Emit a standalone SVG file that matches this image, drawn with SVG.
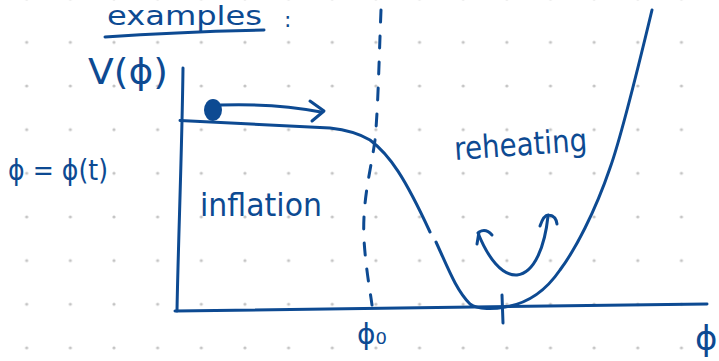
<svg xmlns="http://www.w3.org/2000/svg" width="719" height="361" viewBox="0 0 719 361">
<style>
.ink{fill:none;stroke:#0d4a92;stroke-width:3;stroke-linecap:round;stroke-linejoin:round}
.txt{fill:#0d4a92;font-family:"DejaVu Sans","Liberation Sans",sans-serif}
</style>
<defs>
<pattern id="dots" x="4.87" y="20.5" width="43.65" height="43.65" patternUnits="userSpaceOnUse">
<circle cx="21.83" cy="21.83" r="1.6" fill="#c4c4c4"/>
</pattern>
</defs>
<rect width="719" height="361" fill="#ffffff"/>
<rect width="719" height="361" fill="url(#dots)"/>

<g id="title">
<text class="txt" x="107" y="25" font-size="26" textLength="155" lengthAdjust="spacingAndGlyphs">examples</text>
<path class="ink" d="M105,37 C160,33 215,31 264,30"/>
<text class="txt" x="284" y="27" font-size="22">:</text>
</g>

<g id="labels">
<text class="txt" x="88" y="84" font-size="36" textLength="80" lengthAdjust="spacingAndGlyphs">V(ϕ)</text>
<text class="txt" x="8" y="180" font-size="28" textLength="100" lengthAdjust="spacingAndGlyphs">ϕ = ϕ(t)</text>
<text class="txt" x="200" y="216" font-size="32" textLength="122" lengthAdjust="spacingAndGlyphs">inflation</text>
<text class="txt" x="455" y="160" font-size="32" textLength="133" lengthAdjust="spacingAndGlyphs" transform="rotate(-4 455 160)">reheating</text>
<text class="txt" x="357" y="344" font-size="28">ϕ₀</text>
<text class="txt" x="695" y="350" font-size="34">ϕ</text>
</g>

<g id="axes">
<path class="ink" d="M183,68 C182,150 178,250 177,311"/>
<path class="ink" d="M175,311 C300,309 500,306 707,304"/>
</g>

<g id="potential">
<path class="ink" d="M180,120.5 L330,128 C348,130 360,134 370,140 C390,155 405,178 430,232"/>
<path class="ink" d="M436,242 C448,268 456,290 470,304 C478,310 495,309 505,307 C525,304 545,292 560,270 C575,250 595,212 610,168 C622,135 640,60 652,10"/>
<path class="ink" stroke-width="4" d="M502,295 L503,323"/>
</g>

<g id="field-line">
<path class="ink" stroke-dasharray="12 14" d="M381,10 C379,60 378,110 375,140 C371,170 362,200 364,240 C366,270 370,290 372,305"/>
</g>

<g id="ball">
<ellipse cx="213" cy="110" rx="9" ry="11" fill="#0d4a92"/>
<path class="ink" stroke-width="5" d="M220,105 C250,104 290,106 321,112"/>
<path class="ink" stroke-width="4" d="M310,101 L324,111 L312,121"/>
</g>

<g id="oscillation">
<path class="ink" d="M478,233 C488,258 502,276 517,275 C535,273 545,245 548,216"/>
<path class="ink" d="M477,244 L479,232 Q486,228 492,235"/>
<path class="ink" d="M540,226 Q544,214 549,215 Q556,216 557,224"/>
</g>
</svg>
